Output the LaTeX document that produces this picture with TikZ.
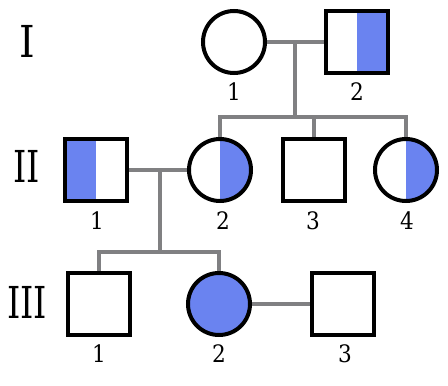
\documentclass[tikz,border=0pt]{standalone}
\usepackage{fontspec}
\usepackage{tikz}
\usepackage{xcolor}
\usetikzlibrary{backgrounds}
\newfontfamily\numfont{DejaVu Serif Condensed}
\definecolor{pedblue}{RGB}{106,131,240}
\definecolor{pedgrey}{RGB}{128,128,130}

\begin{document}
\begin{tikzpicture}[x=1pt,y=-1pt,
    person/.style={draw=black,line width=4pt,fill=white,inner sep=0pt,
          minimum size=62pt},
    male/.style={person,rectangle},
    female/.style={person,circle},
    lefthalf/.style={path picture={\fill[pedblue] (path picture bounding box.north west) rectangle (path picture bounding box.south);}},
    righthalf/.style={path picture={\fill[pedblue] (path picture bounding box.north) rectangle (path picture bounding box.south east);}},
    affected/.style={fill=pedblue},
    link/.style={draw=pedgrey,line width=4pt},
    gen/.style={font=\numfont\fontsize{44}{44}\selectfont},
    num/.style={font=\numfont\fontsize{24}{24}\selectfont,inner sep=0pt}]
    \useasboundingbox (0,0) rectangle (448,386);
    % generations
    \node[gen] (gI) at (27,41) {I};
    \node[gen] (gII) at (27,166) {\scalebox{0.85}[1]{II}};
    \node[gen] (gIII) at (27,302) {\scalebox{0.85}[1]{III}};
    % generation I
    \node[female] (I1) at (234,42) {};
    \node[male,righthalf] (I2) at (357,42) {};
    \node[num] (n11) at (234,92) {1};
    \node[num] (n12) at (357,92) {2};
    % generation II
    \node[male,lefthalf] (II1) at (96,170) {};
    \node[female,righthalf] (II2) at (220,170) {};
    \node[male] (II3) at (314,170) {};
    \node[female,righthalf] (II4) at (406,170) {};
    \node[num] (n21) at (97,221) {1};
    \node[num] (n22) at (223,221) {2};
    \node[num] (n23) at (313,221) {3};
    \node[num] (n24) at (407,221) {4};
    % generation III
    \node[male] (III1) at (99,304) {};
    \node[female,affected] (III2) at (219,304) {};
    \node[male] (III3) at (343,304) {};
    \node[num] (n31) at (99,354) {1};
    \node[num] (n32) at (219,354) {2};
    \node[num] (n33) at (345,354) {3};
    \coordinate (m1) at (295,42);
    \coordinate (s1) at (295,117);
    \coordinate (m2) at (160,170);
    \coordinate (s2) at (160,252);
    \begin{scope}[on background layer]
      \draw[link] (I1) -- (I2);
      \draw[link] (m1) -- (s1);
      \draw[link] (II2.north) -- (II2.north |- s1) -- (II4.north |- s1) -- (II4.north);
      \draw[link] (II3.north) -- (II3.north |- s1);
      \draw[link] (II1) -- (II2);
      \draw[link] (m2) -- (s2);
      \draw[link] (III1.north) -- (III1.north |- s2) -- (III2.north |- s2) -- (III2.north);
      \draw[link] (III2) -- (III3);
    \end{scope}
\end{tikzpicture}
\end{document}
